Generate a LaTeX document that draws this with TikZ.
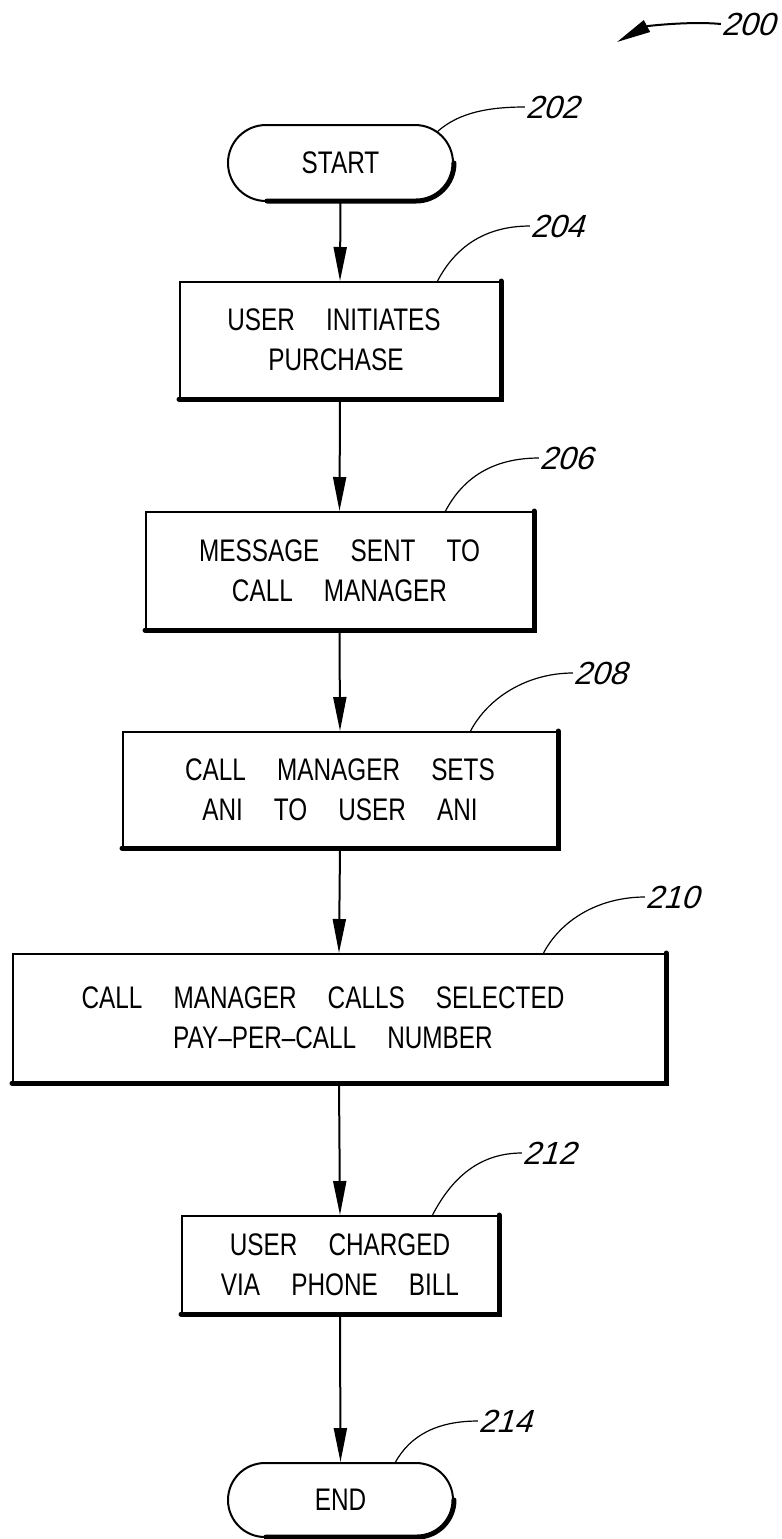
\documentclass[tikz,border=0pt]{standalone}
\usepackage{fontspec}
\setmainfont{Liberation Sans}[FakeStretch=0.78,WordSpace=4.6]
\newfontfamily\lblfont{Liberation Sans}[FakeSlant=0.3]
\usetikzlibrary{arrows.meta,shapes.misc}
\begin{document}
\begin{tikzpicture}[x=0.5pt,y=-0.5pt,
  box/.style={draw, line width=1pt, inner sep=0pt, align=center,
    font=\fontsize{15.6pt}{20pt}\selectfont},
  term/.style={box, rounded rectangle},
  flow/.style={line width=1pt, -{Triangle[length=17pt,width=6.5pt]}},
  lead/.style={line width=0.6pt},
  lbl/.style={font=\lblfont\fontsize{16pt}{16pt}\selectfont, inner sep=0pt},
  shadeline/.style={line width=2.5pt, line cap=round}]

\useasboundingbox (0,0) rectangle (782,1539);

% boxes
\node[term, minimum width=112.5pt, minimum height=38pt] (start) at (340.5,163) {START};
\node[box, minimum width=160pt, minimum height=58pt] (b204) at (340,340) {USER INITIATES\rule{6pt}{0pt}\\PURCHASE\rule{4pt}{0pt}};
\node[box, minimum width=193.5pt, minimum height=58.5pt] (b206) at (339.5,570.5) {MESSAGE SENT TO\\CALL MANAGER};
\node[box, minimum width=217pt, minimum height=57.5pt] (b208) at (340,789.5) {CALL MANAGER SETS\\ANI TO USER ANI};
\node[box, minimum width=326pt, minimum height=64pt] (b210) at (339,1018) {CALL MANAGER CALLS SELECTED\rule{16pt}{0pt}\\PAY--PER--CALL NUMBER\rule{6pt}{0pt}};
\node[box, minimum width=158pt, minimum height=48.5pt] (b212) at (340,1264.5) {USER CHARGED\\VIA PHONE BILL};
\node[term, minimum width=112.5pt, minimum height=37pt] (end) at (340.5,1500) {END};

% shadow edges
\foreach \b in {b204,b206,b208,b210,b212}
  \draw[shadeline] (\b.north east) -- (\b.south east) -- (\b.south west);
\draw[shadeline] (start.east) arc[start angle=0,end angle=-90,radius=19pt] -- ++(-74.5pt,0pt);
\draw[shadeline] (end.east) arc[start angle=0,end angle=-90,radius=18.5pt] -- ++(-75.5pt,0pt);

% flow
\draw[flow] (start.south) -- (b204.north);
\draw[flow] (b204.south) -- (b206.north);
\draw[flow] (b206.south) -- (b208.north);
\draw[flow] (b208.south) -- (b210.north);
\draw[flow] (b210.south) -- (b212.north);
\draw[flow] (b212.south) -- (end.north);

% labels
\node[lbl] (t200) at (748,24) {200};
\node[lbl] (t202) at (552,107) {202};
\node[lbl] (t204) at (557,226) {204};
\node[lbl] (t206) at (566,458) {206};
\node[lbl] (t208) at (600,673) {208};
\node[lbl] (t210) at (672,897) {210};
\node[lbl] (t212) at (549,1153) {212};
\node[lbl] (t214) at (505,1421) {214};

\coordinate (a200) at (617,42);
\draw[line width=1pt, -{Triangle[length=17pt,width=6.5pt]}] (t200.west) .. controls +(-30,-3) and +(30,-16) .. (a200);

\coordinate (l202) at (437,132);
\coordinate (l204) at (437,282);
\coordinate (l206) at (445,512);
\coordinate (l208) at (470,732);
\coordinate (l210) at (543,954);
\coordinate (l212) at (432,1216);
\coordinate (l214) at (395,1463);

\draw[lead] (l202) .. controls +(22,-20) and +(-35,0) .. (t202.west);
\foreach \n in {204,206,208,210,212}
  \draw[lead] (l\n) .. controls +(18,-35) and +(-45,0) .. (t\n.west);
\draw[lead] (l214) .. controls +(15,-28) and +(-40,0) .. (t214.west);
\end{tikzpicture}
\end{document}
